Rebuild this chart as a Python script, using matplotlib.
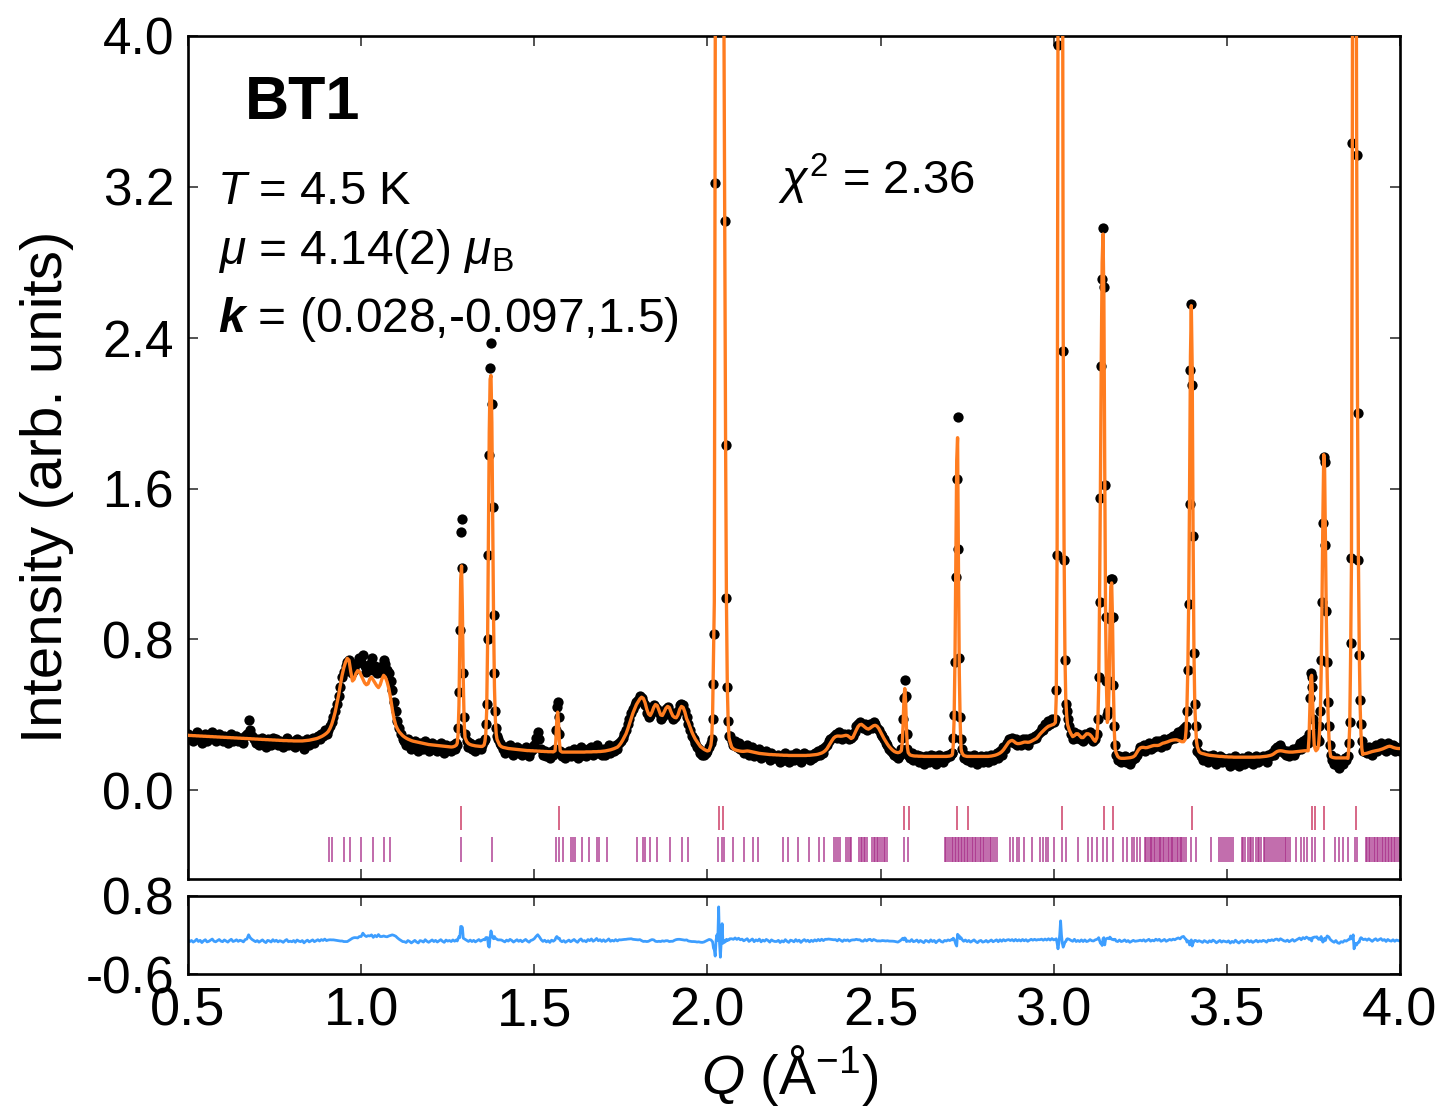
import numpy as np
import matplotlib
matplotlib.use("Agg")
from matplotlib import pyplot as plt

plt.rcParams['font.family'] = ['Liberation Sans', 'DejaVu Sans']
plt.rcParams['mathtext.fontset'] = 'custom'
plt.rcParams['mathtext.rm'] = 'Liberation Sans'
plt.rcParams['mathtext.it'] = 'Liberation Sans:italic'
plt.rcParams['mathtext.bf'] = 'Liberation Sans:bold:italic'
plt.rcParams['axes.unicode_minus'] = False

ORANGE = '#ff7d20'
BLUE = '#3d9eff'
NUC_COLOR = '#d45c7e'
MAG_COLOR = '#a62a86'

# measured pattern on the regular 0.005 grid, Q = 0.500 ... 4.000
Q_START = 0.5
Q_STEP = 0.005

calc_grid = [
    0.292, 0.291, 0.291, 0.290, 0.290, 0.289, 0.289, 0.288, 0.288, 0.287, 0.287, 0.286, 0.286, 0.285, 0.285, 0.284, 0.284, 0.283, 0.283, 0.282,
    0.282, 0.281, 0.281, 0.280, 0.280, 0.279, 0.279, 0.278, 0.278, 0.277, 0.277, 0.276, 0.276, 0.275, 0.275, 0.274, 0.274, 0.273, 0.273, 0.272,
    0.272, 0.271, 0.271, 0.270, 0.270, 0.269, 0.269, 0.268, 0.268, 0.267, 0.267, 0.266, 0.266, 0.265, 0.265, 0.264, 0.264, 0.264, 0.263, 0.263,
    0.263, 0.262, 0.262, 0.262, 0.262, 0.262, 0.262, 0.263, 0.264, 0.265, 0.266, 0.268, 0.270, 0.272, 0.274, 0.277, 0.281, 0.285, 0.290, 0.296,
    0.303, 0.312, 0.328, 0.350, 0.380, 0.415, 0.460, 0.505, 0.560, 0.610, 0.650, 0.680, 0.700, 0.690, 0.630, 0.580, 0.590, 0.620, 0.635, 0.630,
    0.610, 0.590, 0.570, 0.560, 0.565, 0.590, 0.600, 0.585, 0.570, 0.555, 0.545, 0.560, 0.590, 0.610, 0.600, 0.575, 0.540, 0.490, 0.430, 0.380,
    0.345, 0.325, 0.310, 0.300, 0.290, 0.283, 0.277, 0.272, 0.268, 0.264, 0.261, 0.259, 0.257, 0.255, 0.253, 0.251, 0.249, 0.247, 0.245, 0.243,
    0.242, 0.241, 0.240, 0.239, 0.238, 0.237, 0.236, 0.235, 0.234, 0.233, 0.232, 0.231, 0.230, 0.231, 0.234, 0.240, 0.300, 0.800, 1.190, 0.580,
    0.280, 0.258, 0.248, 0.243, 0.240, 0.238, 0.236, 0.235, 0.234, 0.233, 0.233, 0.240, 0.300, 0.750, 1.900, 2.200, 1.450, 0.550, 0.300, 0.260,
    0.240, 0.232, 0.228, 0.226, 0.224, 0.222, 0.221, 0.220, 0.219, 0.218, 0.217, 0.216, 0.215, 0.214, 0.213, 0.212, 0.211, 0.211, 0.210, 0.210,
    0.209, 0.209, 0.208, 0.208, 0.207, 0.207, 0.206, 0.206, 0.205, 0.205, 0.205, 0.204, 0.210, 0.370, 0.360, 0.210, 0.203, 0.203, 0.203, 0.203,
    0.203, 0.203, 0.203, 0.203, 0.203, 0.203, 0.203, 0.203, 0.203, 0.203, 0.204, 0.204, 0.204, 0.204, 0.205, 0.205, 0.205, 0.206, 0.206, 0.207,
    0.208, 0.209, 0.211, 0.213, 0.215, 0.218, 0.221, 0.225, 0.229, 0.238, 0.250, 0.265, 0.282, 0.300, 0.325, 0.353, 0.380, 0.410, 0.433, 0.455,
    0.470, 0.485, 0.494, 0.488, 0.465, 0.430, 0.405, 0.397, 0.415, 0.440, 0.455, 0.450, 0.425, 0.400, 0.397, 0.415, 0.435, 0.445, 0.440, 0.415,
    0.395, 0.387, 0.385, 0.400, 0.430, 0.445, 0.440, 0.415, 0.380, 0.360, 0.335, 0.310, 0.290, 0.272, 0.258, 0.245, 0.232, 0.225, 0.218, 0.213,
    0.209, 0.212, 0.240, 0.400, 1.000, 8.000, 14.00, 13.50, 8.000, 4.800, 3.050, 1.000, 0.360, 0.260, 0.230, 0.220, 0.215, 0.212, 0.210, 0.208,
    0.207, 0.207, 0.208, 0.209, 0.208, 0.206, 0.204, 0.202, 0.200, 0.198, 0.196, 0.195, 0.194, 0.193, 0.192, 0.191, 0.190, 0.190, 0.189, 0.189,
    0.188, 0.188, 0.187, 0.187, 0.186, 0.186, 0.186, 0.185, 0.185, 0.185, 0.185, 0.185, 0.185, 0.185, 0.185, 0.185, 0.185, 0.185, 0.186, 0.186,
    0.187, 0.188, 0.189, 0.190, 0.192, 0.195, 0.198, 0.203, 0.210, 0.220, 0.235, 0.250, 0.265, 0.278, 0.285, 0.288, 0.288, 0.287, 0.288, 0.290,
    0.292, 0.290, 0.283, 0.275, 0.280, 0.300, 0.320, 0.338, 0.348, 0.350, 0.343, 0.335, 0.328, 0.325, 0.330, 0.337, 0.343, 0.345, 0.340, 0.328,
    0.310, 0.292, 0.275, 0.260, 0.245, 0.232, 0.222, 0.213, 0.206, 0.202, 0.200, 0.202, 0.210, 0.340, 0.540, 0.320, 0.200, 0.188, 0.185, 0.183,
    0.182, 0.182, 0.181, 0.181, 0.181, 0.180, 0.180, 0.180, 0.180, 0.180, 0.180, 0.180, 0.180, 0.180, 0.180, 0.180, 0.180, 0.180, 0.180, 0.181,
    0.182, 0.185, 0.240, 0.700, 1.750, 1.200, 0.360, 0.200, 0.185, 0.182, 0.180, 0.180, 0.180, 0.180, 0.180, 0.180, 0.180, 0.180, 0.180, 0.180,
    0.180, 0.180, 0.180, 0.181, 0.182, 0.184, 0.186, 0.189, 0.193, 0.198, 0.205, 0.215, 0.228, 0.242, 0.255, 0.262, 0.265, 0.260, 0.252, 0.248,
    0.248, 0.250, 0.253, 0.256, 0.256, 0.255, 0.256, 0.260, 0.265, 0.270, 0.275, 0.285, 0.297, 0.307, 0.316, 0.325, 0.333, 0.340, 0.343, 0.347,
    0.350, 0.360, 1.300, 7.000, 10.50, 5.500, 1.300, 0.480, 0.350, 0.320, 0.300, 0.285, 0.290, 0.300, 0.300, 0.290, 0.280, 0.280, 0.290, 0.300,
    0.300, 0.295, 0.285, 0.270, 0.260, 0.280, 0.550, 1.600, 2.800, 2.620, 0.900, 0.360, 0.550, 1.080, 0.900, 0.320, 0.200, 0.180, 0.172, 0.170,
    0.170, 0.170, 0.171, 0.172, 0.173, 0.175, 0.178, 0.185, 0.200, 0.215, 0.225, 0.228, 0.228, 0.226, 0.227, 0.230, 0.233, 0.236, 0.238, 0.238,
    0.238, 0.240, 0.245, 0.250, 0.252, 0.255, 0.258, 0.262, 0.265, 0.267, 0.268, 0.268, 0.265, 0.262, 0.258, 0.258, 0.270, 0.450, 1.000, 2.300,
    2.250, 0.750, 0.340, 0.230, 0.205, 0.198, 0.195, 0.193, 0.190, 0.188, 0.186, 0.185, 0.184, 0.183, 0.182, 0.181, 0.180, 0.180, 0.179, 0.178,
    0.178, 0.177, 0.177, 0.177, 0.176, 0.176, 0.176, 0.176, 0.176, 0.176, 0.176, 0.176, 0.176, 0.176, 0.176, 0.176, 0.176, 0.177, 0.177, 0.177,
    0.178, 0.179, 0.180, 0.181, 0.183, 0.185, 0.188, 0.193, 0.200, 0.206, 0.209, 0.210, 0.209, 0.207, 0.205, 0.204, 0.203, 0.203, 0.203, 0.204,
    0.205, 0.206, 0.207, 0.208, 0.209, 0.210, 0.210, 0.210, 0.450, 0.610, 0.330, 0.220, 0.215, 0.240, 0.400, 1.000, 1.780, 1.300, 0.600, 0.280,
    0.180, 0.175, 0.173, 0.172, 0.172, 0.172, 0.172, 0.172, 0.172, 0.172, 0.170, 0.340, 1.200, 7.000, 8.200, 3.450, 1.250, 0.450, 0.220, 0.195,
    0.195, 0.197, 0.200, 0.203, 0.206, 0.208, 0.210, 0.212, 0.214, 0.217, 0.220, 0.224, 0.228, 0.232, 0.234, 0.232, 0.228, 0.225, 0.223, 0.222,
    0.222,
]

obs_grid = [
    0.30, 0.27, 0.29, 0.26, 0.28, 0.31, 0.27, 0.29, 0.25, 0.28, 0.30, 0.26, 0.27, 0.29, 0.31, 0.27, 0.26, 0.28, 0.30, 0.27,
    0.26, 0.29, 0.27, 0.25, 0.28, 0.30, 0.26, 0.27, 0.29, 0.26, 0.28, 0.27, 0.25, 0.29, 0.30, 0.375, 0.32, 0.29, 0.27, 0.25,
    0.27, 0.24, 0.26, 0.28, 0.25, 0.23, 0.27, 0.26, 0.24, 0.28, 0.25, 0.27, 0.24, 0.26, 0.25, 0.23, 0.26, 0.28, 0.24, 0.25,
    0.24, 0.26, 0.23, 0.27, 0.25, 0.24, 0.26, 0.22, 0.25, 0.27, 0.24, 0.26, 0.28, 0.25, 0.27, 0.29, 0.27, 0.30, 0.29, 0.32,
    0.30, 0.32, 0.34, 0.36, 0.39, 0.42, 0.46, 0.50, 0.55, 0.60, 0.63, 0.66, 0.68, 0.69, 0.65, 0.62, 0.64, 0.67, 0.68, 0.70,
    0.68, 0.72, 0.66, 0.63, 0.65, 0.67, 0.70, 0.64, 0.66, 0.62, 0.65, 0.63, 0.66, 0.69, 0.67, 0.64, 0.62, 0.58, 0.53, 0.47,
    0.42, 0.37, 0.33, 0.30, 0.27, 0.26, 0.24, 0.27, 0.25, 0.22, 0.24, 0.26, 0.23, 0.21, 0.25, 0.24, 0.22, 0.26, 0.23, 0.21,
    0.23, 0.25, 0.22, 0.24, 0.21, 0.23, 0.25, 0.22, 0.20, 0.24, 0.22, 0.23, 0.21, 0.24, 0.22, 0.25, 0.33, 0.85, 1.44, 0.62,
    0.30, 0.26, 0.23, 0.25, 0.22, 0.24, 0.21, 0.23, 0.25, 0.22, 0.24, 0.26, 0.35, 0.80, 1.78, 2.37, 1.50, 0.62, 0.33, 0.27,
    0.25, 0.24, 0.22, 0.20, 0.23, 0.21, 0.24, 0.22, 0.19, 0.21, 0.23, 0.20, 0.22, 0.19, 0.21, 0.23, 0.20, 0.18, 0.21, 0.22,
    0.24, 0.28, 0.31, 0.27, 0.22, 0.19, 0.21, 0.18, 0.20, 0.17, 0.21, 0.19, 0.22, 0.44, 0.39, 0.21, 0.18, 0.20, 0.17, 0.19,
    0.21, 0.18, 0.20, 0.22, 0.19, 0.17, 0.21, 0.23, 0.19, 0.20, 0.18, 0.22, 0.20, 0.23, 0.19, 0.21, 0.24, 0.20, 0.22, 0.19,
    0.22, 0.19, 0.21, 0.24, 0.20, 0.22, 0.21, 0.24, 0.22, 0.25, 0.26, 0.28, 0.30, 0.32, 0.35, 0.38, 0.41, 0.43, 0.45, 0.47,
    0.48, 0.50, 0.49, 0.47, 0.45, 0.41, 0.39, 0.40, 0.43, 0.45, 0.44, 0.43, 0.41, 0.38, 0.39, 0.40, 0.43, 0.44, 0.42, 0.40,
    0.38, 0.39, 0.40, 0.42, 0.45, 0.46, 0.45, 0.42, 0.39, 0.35, 0.32, 0.29, 0.27, 0.25, 0.23, 0.22, 0.20, 0.19, 0.19, 0.20,
    0.21, 0.23, 0.25, 0.376, 0.83, 8.00, 14.00, 13.45, 7.98, 4.75, 3.02, 1.02, 0.37, 0.29, 0.26, 0.24, 0.26, 0.23, 0.25, 0.22,
    0.23, 0.20, 0.22, 0.24, 0.19, 0.21, 0.23, 0.18, 0.21, 0.19, 0.22, 0.17, 0.20, 0.18, 0.21, 0.19, 0.16, 0.20, 0.18, 0.17,
    0.17, 0.19, 0.15, 0.18, 0.16, 0.20, 0.17, 0.15, 0.19, 0.18, 0.16, 0.20, 0.17, 0.19, 0.15, 0.18, 0.20, 0.17, 0.19, 0.16,
    0.19, 0.17, 0.20, 0.18, 0.21, 0.19, 0.22, 0.20, 0.23, 0.24, 0.26, 0.27, 0.28, 0.29, 0.30, 0.28, 0.31, 0.29, 0.27, 0.30,
    0.29, 0.30, 0.27, 0.28, 0.29, 0.31, 0.34, 0.35, 0.36, 0.34, 0.33, 0.35, 0.32, 0.34, 0.35, 0.33, 0.36, 0.35, 0.33, 0.32,
    0.30, 0.29, 0.27, 0.25, 0.24, 0.22, 0.21, 0.20, 0.19, 0.18, 0.17, 0.19, 0.22, 0.38, 0.585, 0.30, 0.19, 0.17, 0.20, 0.16,
    0.17, 0.19, 0.15, 0.18, 0.16, 0.14, 0.18, 0.17, 0.15, 0.19, 0.16, 0.18, 0.14, 0.17, 0.19, 0.16, 0.15, 0.18, 0.17, 0.19,
    0.18, 0.20, 0.28, 0.68, 1.65, 1.28, 0.39, 0.22, 0.17, 0.19, 0.16, 0.18, 0.15, 0.17, 0.19, 0.16, 0.14, 0.17, 0.18, 0.15,
    0.16, 0.18, 0.15, 0.17, 0.19, 0.16, 0.18, 0.20, 0.17, 0.21, 0.19, 0.23, 0.22, 0.25, 0.27, 0.26, 0.28, 0.25, 0.27, 0.24,
    0.26, 0.24, 0.27, 0.25, 0.27, 0.24, 0.26, 0.28, 0.27, 0.29, 0.28, 0.30, 0.31, 0.33, 0.32, 0.35, 0.34, 0.37, 0.35, 0.38,
    0.36, 0.38, 1.25, 6.95, 10.85, 5.45, 1.22, 0.46, 0.38, 0.34, 0.30, 0.27, 0.31, 0.28, 0.30, 0.27, 0.29, 0.26, 0.30, 0.28,
    0.29, 0.31, 0.28, 0.26, 0.27, 0.30, 0.60, 1.55, 2.71, 2.67, 0.92, 0.40, 0.58, 1.12, 0.92, 0.34, 0.19, 0.16, 0.18, 0.15,
    0.16, 0.18, 0.15, 0.17, 0.14, 0.16, 0.18, 0.17, 0.19, 0.21, 0.23, 0.22, 0.24, 0.21, 0.23, 0.25, 0.22, 0.24, 0.23, 0.26,
    0.24, 0.26, 0.23, 0.25, 0.27, 0.24, 0.26, 0.28, 0.27, 0.29, 0.28, 0.30, 0.31, 0.29, 0.32, 0.33, 0.30, 0.42, 0.99, 2.23,
    2.15, 0.73, 0.34, 0.21, 0.20, 0.18, 0.16, 0.19, 0.17, 0.15, 0.18, 0.16, 0.19, 0.17, 0.14, 0.16, 0.18, 0.15, 0.17, 0.16,
    0.15, 0.17, 0.13, 0.16, 0.14, 0.18, 0.15, 0.13, 0.16, 0.17, 0.14, 0.16, 0.18, 0.15, 0.17, 0.14, 0.16, 0.18, 0.15, 0.17,
    0.16, 0.18, 0.17, 0.15, 0.19, 0.18, 0.20, 0.19, 0.22, 0.23, 0.21, 0.24, 0.22, 0.20, 0.19, 0.21, 0.18, 0.20, 0.22, 0.19,
    0.21, 0.23, 0.25, 0.22, 0.26, 0.24, 0.27, 0.25, 0.49, 0.60, 0.38, 0.28, 0.28, 0.26, 0.42, 1.00, 1.77, 1.30, 0.68, 0.34,
    0.19, 0.16, 0.14, 0.17, 0.13, 0.12, 0.15, 0.14, 0.17, 0.16, 0.18, 0.36, 1.23, 7.10, 8.10, 3.37, 1.22, 0.48, 0.26, 0.21,
    0.22, 0.20, 0.23, 0.21, 0.19, 0.22, 0.24, 0.21, 0.23, 0.25, 0.22, 0.24, 0.21, 0.25, 0.23, 0.22, 0.24, 0.21, 0.23, 0.22,
    0.21,
]

# extra points between grid steps on the sharp Bragg peaks
fine_q = [
    1.2775, 1.2825, 1.2875, 1.2925, 1.2975,
    1.3575, 1.3625, 1.3675, 1.3725, 1.3775, 1.3825, 1.3875, 1.3925,
    1.5625, 1.5675, 1.5725,
    2.0125, 2.0175, 2.0225, 2.0275, 2.0325, 2.0375, 2.0425, 2.0475, 2.0525, 2.0575, 2.0625,
    2.5625, 2.5675, 2.5725, 2.5775,
    2.7075, 2.7125, 2.7175, 2.7225, 2.7275, 2.7325,
    3.0075, 3.0125, 3.0175, 3.0225, 3.0275, 3.0325, 3.0375,
    3.1275, 3.1325, 3.1375, 3.1425, 3.1475, 3.1525, 3.1575, 3.1625, 3.1675, 3.1725, 3.1775,
    3.3825, 3.3875, 3.3925, 3.3975, 3.4025, 3.4075, 3.4125,
    3.7375, 3.7425, 3.7475, 3.7525, 3.7575, 3.7625, 3.7675, 3.7725, 3.7775, 3.7825, 3.7875, 3.7925, 3.7975,
    3.8525, 3.8575, 3.8625, 3.8675, 3.8725, 3.8775, 3.8825, 3.8875, 3.8925,
]
fine_calc = [
    0.25, 0.45, 1.12, 0.95, 0.36,
    0.26, 0.42, 1.35, 2.18, 1.95, 0.90, 0.38, 0.27,
    0.27, 0.415, 0.26,
    0.28, 0.70, 3.50, 12.0, 14.5, 11.0, 6.0, 4.2, 1.85, 0.55, 0.28,
    0.25, 0.48, 0.47, 0.23,
    0.19, 0.38, 1.20, 1.87, 0.62, 0.22,
    0.50, 4.10, 10.0, 8.5, 2.45, 0.72, 0.40,
    0.35, 1.00, 2.30, 2.95, 1.70, 0.55, 0.38, 0.85, 1.10, 0.55, 0.22,
    0.32, 0.65, 1.60, 2.57, 1.40, 0.46, 0.26,
    0.28, 0.60, 0.50, 0.24, 0.21, 0.22, 0.30, 0.62, 1.45, 1.70, 0.90, 0.40, 0.21,
    0.23, 0.70, 3.40, 9.0, 5.5, 2.05, 0.75, 0.30, 0.19,
]
fine_obs = [
    0.24, 0.52, 1.37, 1.18, 0.39,
    0.27, 0.46, 1.25, 2.24, 2.05, 0.93, 0.42, 0.29,
    0.32, 0.47, 0.30,
    0.275, 0.565, 3.22, 12.1, 15.1, 10.7, 6.3, 4.2, 1.83, 0.547, 0.29,
    0.28, 0.49, 0.50, 0.22,
    0.20, 0.40, 1.13, 1.98, 0.70, 0.27,
    0.53, 3.95, 10.1, 8.6, 2.33, 0.69, 0.42,
    0.38, 1.00, 2.25, 2.98, 1.62, 0.58, 0.42, 0.91, 1.12, 0.56, 0.24,
    0.34, 0.64, 1.52, 2.58, 1.35, 0.46, 0.25,
    0.30, 0.62, 0.55, 0.30, 0.27, 0.26, 0.34, 0.69, 1.42, 1.74, 0.95, 0.47, 0.24,
    0.25, 0.78, 3.43, 8.85, 5.45, 2.00, 0.72, 0.35, 0.21,
]

# reflection positions: nuclear (upper row) and magnetic (lower row)
nuc_ticks = [1.288, 1.571, 2.033, 2.046, 2.568, 2.581, 2.722, 2.753, 3.023,
             3.145, 3.172, 3.400, 3.745, 3.754, 3.781, 3.872]
mag_ticks = [
    0.907, 0.915, 0.950, 0.967, 1.000, 1.034, 1.067, 1.083,
    1.288, 1.377,
    1.564, 1.571, 1.583, 1.607, 1.613, 1.618, 1.639, 1.659, 1.680, 1.688, 1.709,
    1.796, 1.813, 1.820, 1.834, 1.853, 1.892, 1.927, 1.945,
    2.031, 2.043, 2.049, 2.075, 2.106, 2.131, 2.145,
    2.217, 2.232, 2.262, 2.293, 2.323, 2.337,
    2.366, 2.371, 2.378, 2.383, 2.400, 2.406, 2.412, 2.416, 2.438, 2.443, 2.447,
    2.452, 2.456, 2.461, 2.475, 2.480, 2.485, 2.490, 2.494, 2.499, 2.504, 2.509,
    2.514, 2.519,
    2.568, 2.580,
    2.686, 2.690, 2.696, 2.700, 2.705, 2.709, 2.714, 2.718, 2.723, 2.727, 2.731,
    2.736, 2.740, 2.745, 2.749, 2.754, 2.758, 2.763, 2.768, 2.772, 2.777, 2.781,
    2.786, 2.790, 2.795, 2.800, 2.805, 2.810, 2.815, 2.820, 2.826, 2.831, 2.836,
    2.874, 2.883, 2.893, 2.901, 2.915, 2.938, 2.960, 2.970, 2.978, 2.985, 3.001,
    3.023, 3.035, 3.069, 3.100, 3.112, 3.124, 3.143, 3.155, 3.172, 3.201, 3.213,
    3.225, 3.232, 3.242, 3.249,
    3.264, 3.268, 3.273, 3.277, 3.281, 3.285, 3.290, 3.294, 3.298, 3.303, 3.307,
    3.311, 3.316, 3.320, 3.324, 3.329, 3.333, 3.338, 3.342, 3.346, 3.351, 3.355,
    3.359, 3.364, 3.368, 3.372, 3.377, 3.381,
    3.398, 3.410, 3.454,
    3.477, 3.483, 3.489, 3.494, 3.500, 3.506, 3.512, 3.518,
    3.543, 3.548, 3.553, 3.560, 3.566, 3.571, 3.577, 3.584, 3.589, 3.594, 3.600,
    3.606, 3.611, 3.617, 3.622, 3.628, 3.634, 3.639, 3.645, 3.650, 3.656, 3.661,
    3.667, 3.672, 3.677, 3.682,
    3.701, 3.713, 3.722, 3.732, 3.745, 3.754, 3.781,
    3.812, 3.825, 3.836, 3.849, 3.870, 3.875,
    3.902, 3.906, 3.911, 3.915, 3.920, 3.924, 3.929, 3.933, 3.938, 3.942, 3.947,
    3.951, 3.956, 3.960, 3.965, 3.969, 3.974, 3.978, 3.983, 3.987, 3.992, 3.996,
]

q_grid = np.round(Q_START + Q_STEP * np.arange(len(calc_grid)), 4)
q = np.concatenate([q_grid, fine_q])
order = np.argsort(q)
q = q[order]
calc = np.concatenate([calc_grid, fine_calc])[order]
obs = np.concatenate([obs_grid, fine_obs])[order]
diff = obs - calc

fig = plt.figure(figsize=(14.39, 11.09), dpi=100)
ax = fig.add_axes([0.13065, 0.20739, 0.8422, 0.76015])
ax_d = fig.add_axes([0.13065, 0.12173, 0.8422, 0.07061])

ax.plot(q, obs, 'o', ms=7.4, color='black', mew=0, zorder=2)
ax.plot(q, calc, color=ORANGE, lw=2.4, zorder=3)
ax.vlines(nuc_ticks, -0.212, -0.085, color=NUC_COLOR, lw=1.3, zorder=2)
ax.vlines(mag_ticks, -0.382, -0.249, color=MAG_COLOR, lw=1.3, alpha=0.75, zorder=2)

ax_d.plot(q, diff, color=BLUE, lw=2.0)

ax.set_xlim(0.5, 4.0)
ax.set_ylim(-0.47, 4.0)
ax.set_yticks([0.0, 0.8, 1.6, 2.4, 3.2, 4.0])
ax.set_yticklabels(['0.0', '0.8', '1.6', '2.4', '3.2', '4.0'])
ax.set_xticks(np.arange(0.5, 4.01, 0.5))

ax_d.set_xlim(0.5, 4.0)
ax_d.set_ylim(-0.6, 0.8)
ax_d.set_yticks([-0.6, 0.8])
ax_d.set_yticklabels(['-0.6', '0.8'])
ax_d.set_xticks(np.arange(0.5, 4.01, 0.5))
ax_d.set_xticklabels(['0.5', '1.0', '1.5', '2.0', '2.5', '3.0', '3.5', '4.0'])

for a in (ax, ax_d):
    a.tick_params(direction='in', length=7, width=1.3, color='#444444',
                  top=True, right=True, pad=10)
    for s in a.spines.values():
        s.set_linewidth(1.9)
ax.tick_params(labelbottom=False, labelsize=37)
ax_d.tick_params(axis='y', labelsize=37)
ax_d.tick_params(axis='x', labelsize=39, pad=9)

ax.text(0.665, 3.56, 'BT1', fontsize=44, fontweight='bold', va='baseline')
ax.text(0.584, 3.11, r'$T$ = 4.5 K', fontsize=34, va='baseline')
ax.text(0.588, 2.79, r'$\mu$ = 4.14(2) $\mu_\mathrm{B}$', fontsize=34.5, va='baseline')
ax.text(0.588, 2.43, r'$\mathbf{k}$ = (0.028,-0.097,1.5)', fontsize=34.5, va='baseline')
ax.text(2.204, 3.16, r'$\chi^2$ = 2.36', fontsize=34, va='baseline')

fig.text(0.0327, 0.5609, 'Intensity (arb. units)', rotation=90,
         ha='center', va='center', fontsize=42)
fig.text(0.549, 0.0305, r'$Q$ (Å$^{-1}$)', ha='center', va='center', fontsize=40)

fig.savefig('out.png', dpi=100)
